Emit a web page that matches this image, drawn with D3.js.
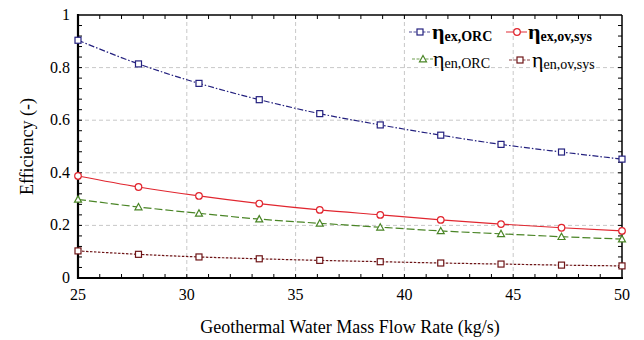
<!DOCTYPE html>
<html>
<head>
<meta charset="utf-8">
<script src="https://cdn.jsdelivr.net/npm/d3@7"></script>
<style>
  body { margin: 0; background: #fff; }
  svg text { font-family: 'Liberation Serif', 'Times New Roman', Times, 'DejaVu Serif', serif; }
</style>
</head>
<body>
<div id="chart"></div>
<script>
// mass flow rate points (kg/s)
const flowRates = [25, 27.78, 30.56, 33.33, 36.11, 38.89, 41.67, 44.44, 47.22, 50];
const etaExOrc = [0.904, 0.814, 0.740, 0.678, 0.625, 0.582, 0.543, 0.508, 0.479, 0.452];
const etaExOvSys = [0.388, 0.346, 0.312, 0.283, 0.259, 0.240, 0.221, 0.205, 0.191, 0.179];
const etaEnOrc = [0.299, 0.270, 0.246, 0.224, 0.208, 0.193, 0.179, 0.168, 0.157, 0.148];
const etaEnOvSys = [0.103, 0.090, 0.080, 0.073, 0.067, 0.062, 0.057, 0.053, 0.049, 0.046];
const xTicks = [25, 30, 35, 40, 45, 50];
const yTicks = [0, 0.2, 0.4, 0.6, 0.8, 1];

const series = [
  { sub: 'ex,ORC', values: etaExOrc, color: '#24217f', dash: '6,2,1.5,2', marker: 'square', bold: true },
  { sub: 'ex,ov,sys', values: etaExOvSys, color: '#e1262f', dash: null, marker: 'circle', bold: true },
  { sub: 'en,ORC', values: etaEnOrc, color: '#4a8526', dash: '8,3', marker: 'triangle', bold: false },
  { sub: 'en,ov,sys', values: etaEnOvSys, color: '#6e1517', dash: '2.5,1.5', marker: 'square', bold: false }
];

const W = 644, H = 340;
const m = { left: 78, right: 22, top: 15, bottom: 62 };
const w = W - m.left - m.right;
const h = H - m.top - m.bottom;
const serif = "'Liberation Serif', 'Times New Roman', serif";

const x = d3.scaleLinear().domain([25, 50]).range([0, w]);
const y = d3.scaleLinear().domain([0, 1]).range([h, 0]);

const svg = d3.select('#chart').append('svg')
  .attr('width', W).attr('height', H)
  .attr('font-family', serif);
const g = svg.append('g').attr('transform', `translate(${m.left},${m.top})`);

// grid
g.append('g').selectAll('line')
  .data(xTicks.slice(1, -1))
  .enter().append('line')
  .attr('x1', d => x(d)).attr('x2', d => x(d))
  .attr('y1', 0).attr('y2', h)
  .attr('stroke', '#c8c8c8').attr('stroke-dasharray', '4,3');
g.append('g').selectAll('line')
  .data(yTicks.slice(1, -1))
  .enter().append('line')
  .attr('y1', d => y(d)).attr('y2', d => y(d))
  .attr('x1', 0).attr('x2', w)
  .attr('stroke', '#c8c8c8').attr('stroke-dasharray', '4,3');

// minor ticks on all four sides, pointing inward
const xMinor = d3.range(26, 50, 1);
const yMinor = d3.range(1, 25).map(i => i * 0.04);
const ticks = g.append('g').attr('stroke', '#000').attr('stroke-width', 1);
xMinor.forEach((v) => {
  ticks.append('line').attr('x1', x(v)).attr('x2', x(v)).attr('y1', h).attr('y2', h - 4);
  ticks.append('line').attr('x1', x(v)).attr('x2', x(v)).attr('y1', 0).attr('y2', 4);
});
yMinor.forEach((v) => {
  ticks.append('line').attr('y1', y(v)).attr('y2', y(v)).attr('x1', 0).attr('x2', 4);
  ticks.append('line').attr('y1', y(v)).attr('y2', y(v)).attr('x1', w).attr('x2', w - 4);
});

// frame
g.append('line').attr('x1', 0).attr('x2', w).attr('y1', 0).attr('y2', 0)
  .attr('stroke', '#000').attr('stroke-width', 1.5);
g.append('line').attr('x1', w).attr('x2', w).attr('y1', 0).attr('y2', h)
  .attr('stroke', '#000').attr('stroke-width', 1.5);
g.append('line').attr('x1', 0).attr('x2', 0).attr('y1', -1).attr('y2', h + 1)
  .attr('stroke', '#000').attr('stroke-width', 2.2);
g.append('line').attr('x1', -1).attr('x2', w + 1).attr('y1', h).attr('y2', h)
  .attr('stroke', '#000').attr('stroke-width', 2.2);

// tick labels
g.append('g').selectAll('text')
  .data(xTicks)
  .enter().append('text')
  .attr('x', d => x(d)).attr('y', h + 22)
  .attr('text-anchor', 'middle')
  .attr('font-size', 16)
  .text(d => d);
g.append('g').selectAll('text')
  .data(yTicks)
  .enter().append('text')
  .attr('x', -8).attr('y', d => y(d) + 5)
  .attr('text-anchor', 'end')
  .attr('font-size', 16)
  .text(d => d3.format('~g')(d));

// axis titles
svg.append('text')
  .attr('x', m.left + w / 2).attr('y', 333)
  .attr('text-anchor', 'middle')
  .attr('font-size', 18)
  .text('Geothermal Water Mass Flow Rate (kg/s)');
svg.append('text')
  .attr('transform', `translate(33,${m.top + h / 2}) rotate(-90)`)
  .attr('text-anchor', 'middle')
  .attr('font-size', 18)
  .text('Efficiency (-)');

function drawMarker(sel, type, color) {
  if (type === 'square') {
    sel.append('rect').attr('x', -3).attr('y', -3).attr('width', 6).attr('height', 6)
      .attr('fill', '#fff').attr('stroke', color).attr('stroke-width', 1.2);
  } else if (type === 'circle') {
    sel.append('circle').attr('r', 3.3)
      .attr('fill', '#fff').attr('stroke', color).attr('stroke-width', 1.2);
  } else {
    sel.append('path').attr('d', 'M0,-3.5L3.5,2.8L-3.5,2.8Z')
      .attr('fill', '#fff').attr('stroke', color).attr('stroke-width', 1.2);
  }
}

const line = d3.line()
  .x((d, i) => x(flowRates[i]))
  .y(d => y(d))
  .curve(d3.curveMonotoneX);

series.forEach((s) => {
  g.append('path')
    .datum(s.values)
    .attr('d', line)
    .attr('fill', 'none')
    .attr('stroke', s.color)
    .attr('stroke-width', 1.2)
    .attr('stroke-dasharray', s.dash);
  s.values.forEach((v, i) => {
    const mk = g.append('g').attr('transform', `translate(${x(flowRates[i])},${y(v)})`);
    drawMarker(mk, s.marker, s.color);
  });
});

// legend
const legendPos = [
  { lx: 409, tx: 432, y: 32 },
  { lx: 506, tx: 528, y: 32 },
  { lx: 412, tx: 433, y: 59 },
  { lx: 509, tx: 532, y: 60 }
];
series.forEach((s, i) => {
  const p = legendPos[i];
  const lg = svg.append('g');
  lg.append('line')
    .attr('x1', p.lx).attr('x2', p.lx + 21)
    .attr('y1', p.y).attr('y2', p.y)
    .attr('stroke', s.color).attr('stroke-width', 1.2)
    .attr('stroke-dasharray', s.dash ? '3,1.5' : null)
    .attr('opacity', 0.8);
  drawMarker(lg.append('g').attr('transform', `translate(${p.lx + 11},${p.y})`), s.marker, s.color);
  const t = lg.append('text')
    .attr('x', p.tx).attr('y', p.y + 7)
    .attr('font-weight', s.bold ? 'bold' : 'normal');
  t.append('tspan').attr('font-size', 22).text('η');
  t.append('tspan').attr('font-size', 14).attr('dy', 2).text(s.sub);
});
</script>
</body>
</html>
